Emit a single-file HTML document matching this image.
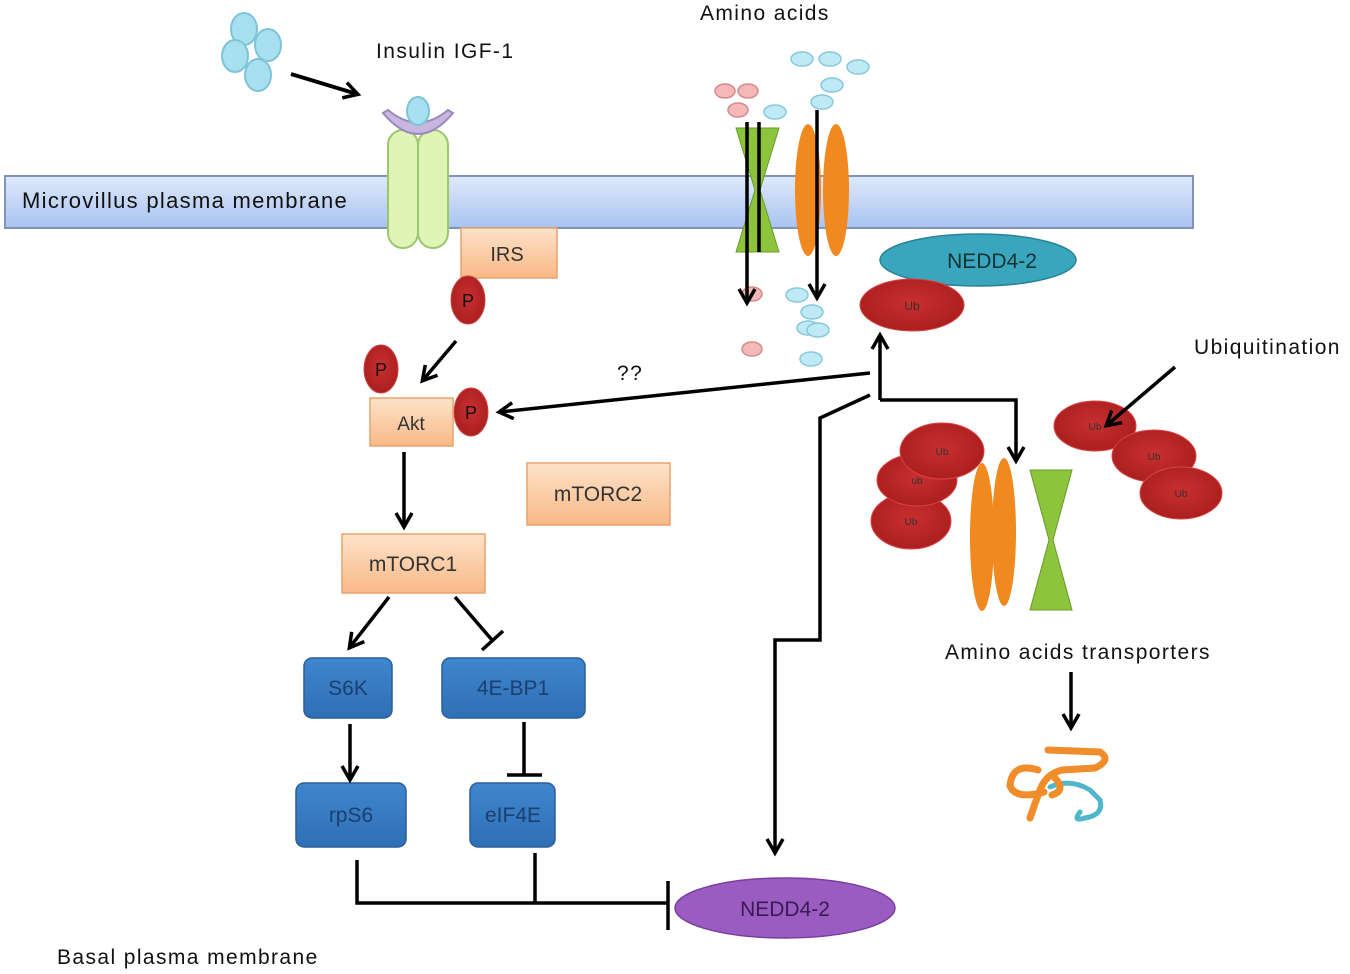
<!DOCTYPE html>
<html><head><meta charset="utf-8"><style>
html,body{margin:0;padding:0;background:#fff}
svg{display:block}
text{font-family:"Liberation Sans",sans-serif}
.lb{font-size:21px;letter-spacing:1.4px;fill:#111}
</style></head><body>
<svg width="1350" height="974" viewBox="0 0 1350 974" xmlns="http://www.w3.org/2000/svg">
<defs>
<linearGradient id="mem" x1="0" y1="0" x2="0" y2="1"><stop offset="0" stop-color="#dfe9fb"/><stop offset="1" stop-color="#a9c3f0"/></linearGradient>
<linearGradient id="peach" x1="0" y1="0" x2="0" y2="1"><stop offset="0" stop-color="#fde3c9"/><stop offset="1" stop-color="#f9b887"/></linearGradient>
<linearGradient id="blue" x1="0" y1="0" x2="0" y2="1"><stop offset="0" stop-color="#3f86cf"/><stop offset="1" stop-color="#2f6fb5"/></linearGradient>
<radialGradient id="red" cx="0.5" cy="0.45" r="0.6"><stop offset="0" stop-color="#c92f2f"/><stop offset="1" stop-color="#a81e1e"/></radialGradient>
<marker id="ah" markerWidth="20" markerHeight="20" refX="15" refY="10" orient="auto" markerUnits="userSpaceOnUse"><path d="M2,2 L16,10 L2,18" fill="none" stroke="#000" stroke-width="3.5"/></marker>
</defs>
<!-- membrane -->
<rect x="5" y="176" width="1188" height="52" fill="url(#mem)" stroke="#7f94b8" stroke-width="2"/>
<text x="22" y="208" class="lb" style="font-size:22px;letter-spacing:1.3px" fill="#222">Microvillus plasma membrane</text>

<!-- insulin cluster -->
<g fill="#a9e0f0" stroke="#7cc4d8" stroke-width="2">
<ellipse cx="244" cy="29" rx="13" ry="16"/><ellipse cx="268" cy="45" rx="13" ry="16"/>
<ellipse cx="235" cy="56" rx="13" ry="16"/><ellipse cx="258" cy="75" rx="13" ry="16"/>
</g>
<text x="376" y="58" class="lb">Insulin IGF-1</text>
<line x1="291" y1="74" x2="357" y2="94" stroke="#000" stroke-width="4" marker-end="url(#ah)"/>

<!-- receptor -->
<rect x="388" y="130" width="30" height="118" rx="15" fill="#def5b6" stroke="#9bc770" stroke-width="2"/>
<rect x="418" y="130" width="30" height="118" rx="15" fill="#def5b6" stroke="#9bc770" stroke-width="2"/>
<path d="M383,113 Q418,155 453,113 L448,110 Q418,135 388,110 Z" fill="#c8b6df" stroke="#9a8abb" stroke-width="2"/>
<ellipse cx="418" cy="111" rx="11" ry="14" fill="#a9e0f0" stroke="#7cc4d8" stroke-width="2"/>

<!-- IRS -->
<rect x="461" y="228" width="96" height="50" fill="url(#peach)" stroke="#e7a36e" stroke-width="1.5"/>
<text x="507" y="261" font-size="20" text-anchor="middle" fill="#333">IRS</text>
<g fill="url(#red)" stroke="#c44" stroke-width="1">
<ellipse cx="468" cy="300" rx="17" ry="24"/><ellipse cx="381" cy="369" rx="17" ry="24"/><ellipse cx="471" cy="412" rx="17" ry="24"/>
</g>
<g font-size="18" text-anchor="middle" fill="#111"><text x="468" y="307">P</text><text x="381" y="376">P</text><text x="471" y="419">P</text></g>
<line x1="456" y1="341" x2="423" y2="380" stroke="#000" stroke-width="3.5" marker-end="url(#ah)"/>

<!-- Akt -->
<rect x="370" y="398" width="83" height="48" fill="url(#peach)" stroke="#e7a36e" stroke-width="1.5"/>
<text x="411" y="430" font-size="19" text-anchor="middle" fill="#333">Akt</text>
<line x1="404" y1="452" x2="404" y2="526" stroke="#000" stroke-width="3.5" marker-end="url(#ah)"/>

<!-- mTORC -->
<rect x="342" y="534" width="143" height="59" fill="url(#peach)" stroke="#e7a36e" stroke-width="1.5"/>
<text x="413" y="571" font-size="21" text-anchor="middle" fill="#333">mTORC1</text>
<rect x="527" y="463" width="143" height="62" fill="url(#peach)" stroke="#e7a36e" stroke-width="1.5"/>
<text x="598" y="501" font-size="21" text-anchor="middle" fill="#333">mTORC2</text>

<line x1="389" y1="597" x2="350" y2="647" stroke="#000" stroke-width="3.5" marker-end="url(#ah)"/>
<line x1="455" y1="597" x2="492" y2="640" stroke="#000" stroke-width="3.5"/>
<line x1="482" y1="650" x2="503" y2="631" stroke="#000" stroke-width="3.5"/>

<!-- blue boxes -->
<g fill="url(#blue)" stroke="#2a5f9a" stroke-width="1.5">
<rect x="304" y="658" width="88" height="60" rx="8"/><rect x="442" y="658" width="143" height="60" rx="8"/>
<rect x="296" y="783" width="110" height="64" rx="8"/><rect x="470" y="783" width="85" height="64" rx="8"/>
</g>
<g font-size="21" text-anchor="middle" fill="#1d3f6e">
<text x="348" y="695">S6K</text><text x="513" y="695">4E-BP1</text>
<text x="351" y="822">rpS6</text><text x="513" y="822">eIF4E</text>
</g>
<line x1="350" y1="724" x2="350" y2="779" stroke="#000" stroke-width="3.5" marker-end="url(#ah)"/>
<line x1="524" y1="722" x2="524" y2="775" stroke="#000" stroke-width="3.5"/>
<line x1="507" y1="775" x2="542" y2="775" stroke="#000" stroke-width="3.5"/>

<path d="M357,860 V903 H668 M535,853 V903" fill="none" stroke="#000" stroke-width="3.5"/>
<line x1="668" y1="881" x2="668" y2="930" stroke="#000" stroke-width="3.5"/>
<ellipse cx="785" cy="908" rx="110" ry="30" fill="#9a5cc0" stroke="#7a3ea0" stroke-width="1.5"/>
<text x="785" y="916" font-size="21" text-anchor="middle" fill="#3a1a55">NEDD4-2</text>
<text x="57" y="964" class="lb" fill="#222">Basal plasma membrane</text>

<!-- amino acids -->
<text x="700" y="20" class="lb">Amino acids</text>
<g fill="#f5b8b8" stroke="#d58a8a" stroke-width="1.5">
<ellipse cx="725" cy="91" rx="10" ry="7"/><ellipse cx="748" cy="91" rx="10" ry="7"/><ellipse cx="738" cy="110" rx="10" ry="7"/>
<ellipse cx="752" cy="294" rx="10" ry="7"/><ellipse cx="752" cy="349" rx="10" ry="7"/>
</g>
<g fill="#bfe9f5" stroke="#86c8dc" stroke-width="1.5">
<ellipse cx="802" cy="59" rx="11" ry="7"/><ellipse cx="830" cy="59" rx="11" ry="7"/><ellipse cx="858" cy="67" rx="11" ry="7"/>
<ellipse cx="832" cy="85" rx="11" ry="7"/><ellipse cx="822" cy="102" rx="11" ry="7"/><ellipse cx="775" cy="112" rx="11" ry="7"/>
<ellipse cx="797" cy="295" rx="11" ry="7"/><ellipse cx="812" cy="312" rx="11" ry="7"/><ellipse cx="808" cy="328" rx="11" ry="7"/>
<ellipse cx="818" cy="330" rx="11" ry="7"/><ellipse cx="811" cy="359" rx="11" ry="7"/>
</g>
<path d="M736,128 L779,128 L760,190 L779,252 L736,252 L755,190 Z" fill="#8cc43c" stroke="#6a9a2a" stroke-width="1"/>
<ellipse cx="808" cy="190" rx="13" ry="66" fill="#f0891f"/>
<ellipse cx="836" cy="190" rx="13" ry="66" fill="#f0891f"/>
<line x1="747" y1="122" x2="747" y2="302" stroke="#000" stroke-width="3.5" marker-end="url(#ah)"/>
<line x1="759" y1="122" x2="759" y2="252" stroke="#000" stroke-width="3.5"/>
<line x1="817" y1="110" x2="817" y2="297" stroke="#000" stroke-width="3.5" marker-end="url(#ah)"/>

<!-- NEDD4-2 blue + Ub -->
<ellipse cx="978" cy="260" rx="98" ry="26" fill="#3aa6bd" stroke="#2a8298" stroke-width="1.5"/>
<text x="992" y="268" font-size="21" text-anchor="middle" fill="#133">NEDD4-2</text>
<ellipse cx="912" cy="305" rx="52" ry="26" fill="url(#red)" stroke="#d44" stroke-width="1"/>
<text x="912" y="310" font-size="12" text-anchor="middle" fill="#333">Ub</text>

<!-- connectors -->
<line x1="880" y1="400" x2="880" y2="336" stroke="#000" stroke-width="3.5" marker-end="url(#ah)"/>
<path d="M880,400 H1016 V460" fill="none" stroke="#000" stroke-width="3.5" marker-end="url(#ah)"/>
<line x1="870" y1="373" x2="500" y2="412" stroke="#000" stroke-width="3.5" marker-end="url(#ah)"/>
<text x="617" y="380" class="lb">??</text>
<path d="M870,395 L820,418 V640 H775 V852" fill="none" stroke="#000" stroke-width="3.5" marker-end="url(#ah)"/>

<!-- Ub clusters -->
<g fill="url(#red)" stroke="#d44" stroke-width="1">
<ellipse cx="911" cy="521" rx="40" ry="28"/><ellipse cx="917" cy="480" rx="40" ry="26"/><ellipse cx="942" cy="451" rx="42" ry="28"/>
<ellipse cx="1095" cy="426" rx="41" ry="25"/><ellipse cx="1154" cy="456" rx="42" ry="26"/><ellipse cx="1181" cy="493" rx="41" ry="26"/>
</g>
<g font-size="10" text-anchor="middle" fill="#333">
<text x="911" y="525">Ub</text><text x="917" y="484">ub</text><text x="942" y="455">Ub</text>
<text x="1095" y="430">Ub</text><text x="1154" y="460">Ub</text><text x="1181" y="497">Ub</text>
</g>
<ellipse cx="982" cy="537" rx="12" ry="74" fill="#f0891f"/>
<ellipse cx="1004" cy="532" rx="12" ry="74" fill="#f0891f"/>
<path d="M1030,470 L1072,470 L1053,540 L1072,610 L1030,610 L1049,540 Z" fill="#8cc43c" stroke="#6a9a2a" stroke-width="1"/>
<text x="1194" y="354" class="lb">Ubiquitination</text>
<line x1="1175" y1="367" x2="1107" y2="425" stroke="#000" stroke-width="3.5" marker-end="url(#ah)"/>
<text x="945" y="659" class="lb">Amino acids transporters</text>
<line x1="1071" y1="672" x2="1071" y2="727" stroke="#000" stroke-width="3.5" marker-end="url(#ah)"/>

<!-- degraded protein squiggle -->
<g fill="none" stroke-linecap="round">
<path d="M1050,787 Q1070,778 1090,790 L1100,800 Q1104,815 1085,818 Q1072,822 1080,812" stroke="#4fb7c9" stroke-width="5"/>
<path d="M1048,750 L1100,752 Q1112,760 1095,768 L1062,770 Q1046,774 1040,790 Q1034,806 1030,818 M1038,770 Q1012,762 1010,786 Q1016,800 1044,792 M1052,775 Q1068,790 1052,795" stroke="#f08c2a" stroke-width="7"/>
</g>
</svg>
</body></html>
